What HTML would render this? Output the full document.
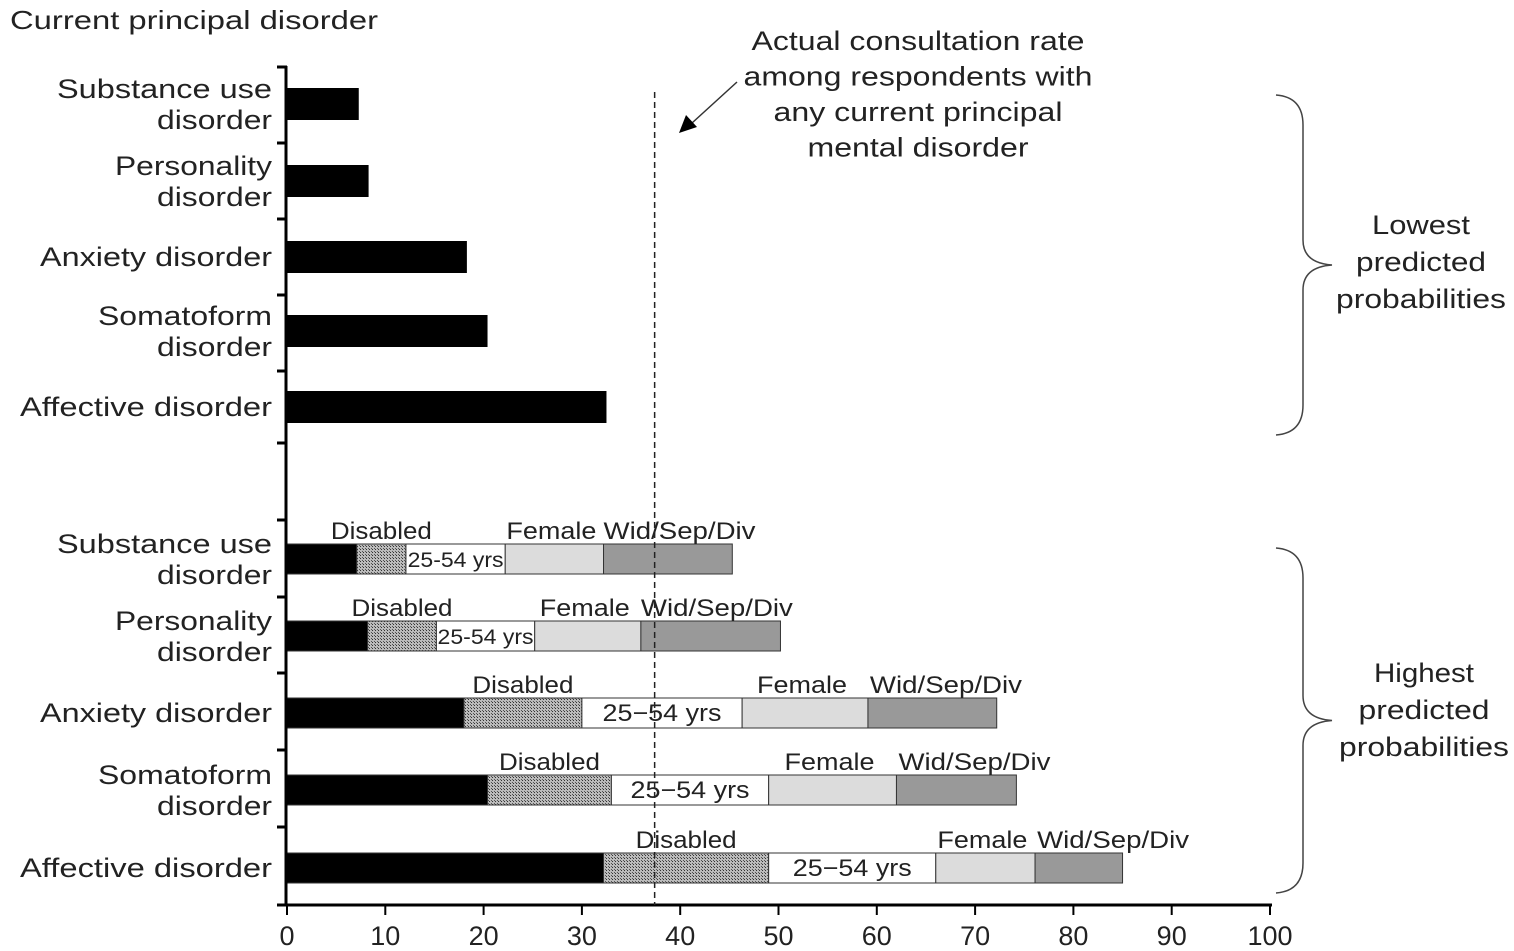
<!DOCTYPE html>
<html><head><meta charset="utf-8"><style>
html,body{margin:0;padding:0;background:#fff;}
svg{display:block;font-family:"Liberation Sans",sans-serif;}
</style></head><body>
<svg id="chart" width="1514" height="951" viewBox="0 0 1514 951">
<defs>
<pattern id="hatch" width="3" height="3" patternUnits="userSpaceOnUse">
<rect width="3" height="3" fill="#bbb"/><rect width="1" height="1" fill="#333"/><rect x="2" y="2" width="1" height="1" fill="#555"/>
</pattern>
</defs>
<g id="plot"></g>
</svg>
<script>
const categories = ["Substance use disorder","Personality disorder","Anxiety disorder","Somatoform disorder","Affective disorder"];
const lowestValues = [7.3, 8.3, 18.3, 20.4, 32.5];
// cumulative ends for stacked bars: base, Disabled, 25-54 yrs, Female, Wid/Sep/Div
const baseEnd = [7.1, 8.2, 18, 20.4, 32.2];
const disabledEnd = [12.1, 15.2, 30, 33, 49];
const ageEnd = [22.2, 25.2, 46.3, 49, 66];
const femaleEnd = [32.2, 36, 59.1, 62, 76.1];
const widEnd = [45.3, 50.2, 72.2, 74.2, 85];
const consultationRate = 37.4;
const xTicks = [0,10,20,30,40,50,60,70,80,90,100];

const NS="http://www.w3.org/2000/svg";
const g=document.getElementById('plot');
const X0=287, X1=1270;
const xs=v=>X0+(X1-X0)*v/100;
function el(tag,attrs,txt,parent){const e=document.createElementNS(NS,tag);for(const k in attrs)e.setAttribute(k,attrs[k]);if(txt!==undefined)e.textContent=txt;(parent||g).appendChild(e);return e;}
function span(parent,x,y,txt,len){const s=el('tspan',{x:x,y:y},txt,parent);if(len){s.setAttribute('textLength',len);s.setAttribute('lengthAdjust','spacingAndGlyphs');}return s;}
const topY=[104,181,257,331,407];
const botY=[559,636,713,790,868];
const catLines=[["Substance  use","disorder"],["Personality","disorder"],["Anxiety  disorder"],["Somatoform","disorder"],["Affective  disorder"]];
const catLens=[[215,115],[157,115],[232],[174,115],[252]];

let t=el('text',{x:10,y:29,'font-size':26,fill:'#222'});


span(t,10,29,'Current  principal  disorder',368);

function catLabel(i,cy,sec){
  const lines=catLines[i];
  const lab=el('text',{x:272,'font-size':27,fill:'#222','text-anchor':'end'});
  
  
  if(lines.length===1){span(lab,272,cy+9,lines[0],catLens[i][0]);}
  else{lines.forEach((l,k)=>span(lab,272,cy-6+k*31,l,catLens[i][k]));}
}

lowestValues.forEach((v,i)=>{
  const r=el('rect',{x:xs(0),y:topY[i]-16,width:xs(v)-xs(0),height:32,fill:'#000'});
  
  
  catLabel(i,topY[i],'lowest');
});

const segs=[{s:null,e:baseEnd,fill:'#000',n:'base'},{s:baseEnd,e:disabledEnd,fill:'url(#hatch)',n:'disabled'},{s:disabledEnd,e:ageEnd,fill:'#fff',n:'age'},{s:ageEnd,e:femaleEnd,fill:'#dcdcdc',n:'female'},{s:femaleEnd,e:widEnd,fill:'#999',n:'wid'}];
categories.forEach((c,i)=>{
  const cy=botY[i], h=30;
  segs.forEach(sg=>{
    const a=sg.s?sg.s[i]:0,b=sg.e[i];
    const r=el('rect',{x:xs(a),y:cy-h/2,width:xs(b)-xs(a),height:h,fill:sg.fill,stroke:'#333','stroke-width':1});
    
    
  });
  const small=i<2;
  const fs=small?21:24;
  let l=el('text',{'font-size':24,fill:'#222','text-anchor':'middle'});
  
  
  span(l,(xs(baseEnd[i])+xs(disabledEnd[i]))/2,cy-20,'Disabled',101);
  l=el('text',{'font-size':fs,fill:'#222','text-anchor':'middle'});
  
  
  span(l,(xs(disabledEnd[i])+xs(ageEnd[i]))/2,cy+8,small?'25-54 yrs':'25\u221254 yrs',small?96:119);
  l=el('text',{'font-size':24,fill:'#222','text-anchor':'middle'});
  
  
  span(l,(xs(ageEnd[i])+xs(femaleEnd[i]))/2-3,cy-20,'Female',90);
  l=el('text',{'font-size':24,fill:'#222'});
  
  
  span(l,xs(femaleEnd[i])+(small?0:2),cy-20,'Wid/Sep/Div',152);
  catLabel(i,cy,'highest');
});

let ax=el('line',{x1:286,y1:66,x2:286,y2:906,stroke:'#000','stroke-width':3});


[67,143,219,295,371,443,520,597,673,750,827].forEach(y=>{
  const tk=el('line',{x1:277,y1:y,x2:287,y2:y,stroke:'#000','stroke-width':3});
  
  
});
ax=el('line',{x1:277,y1:905,x2:1272,y2:905,stroke:'#000','stroke-width':3});


xTicks.forEach(v=>{
  const tk=el('line',{x1:xs(v),y1:905,x2:xs(v),y2:915,stroke:'#000','stroke-width':2});
  
  
  const tl=el('text',{x:xs(v),y:945,'font-size':27,fill:'#222','text-anchor':'middle'},String(v));
  
  
});

let d=el('line',{x1:xs(consultationRate),y1:92,x2:xs(consultationRate),y2:905,stroke:'#222','stroke-width':1.5,'stroke-dasharray':'6,4'});



const ann=el('text',{'font-size':27,fill:'#222','text-anchor':'middle'});


const annLines=["Actual consultation rate","among respondents with","any current principal","mental disorder"];
const annLens=[333,349,289,221];
annLines.forEach((s,k)=>span(ann,918,50+k*35.5,s,annLens[k]));
let ar=el('line',{x1:737,y1:82,x2:692,y2:123,stroke:'#333','stroke-width':1.5});


ar=el('polygon',{points:'679,133 686,115 697,127',fill:'#000'});



function brace(y0,y1,name){
  const m=(y0+y1)/2;
  const p=`M1276,${y0} Q1303,${y0+2} 1303,${y0+30} L1303,${m-25} Q1303,${m-2} 1332,${m} Q1303,${m+2} 1303,${m+25} L1303,${y1-30} Q1303,${y1-2} 1276,${y1}`;
  const b=el('path',{d:p,fill:'none',stroke:'#444','stroke-width':1.5});
  
  
}
brace(95,435,'brace-lowest');
brace(548,893,'brace-highest');
function grpLabel(lines,lens,cx,y0,name){
  const tt=el('text',{'font-size':27,fill:'#222','text-anchor':'middle'});
  
  
  lines.forEach((s,k)=>span(tt,cx,y0+k*37,s,lens[k]));
}
grpLabel(["Lowest","predicted","probabilities"],[98,130,170],1421,234,'group-label-lowest');
grpLabel(["Highest","predicted","probabilities"],[100,131,170],1424,682,'group-label-highest');
</script>
</body></html>
